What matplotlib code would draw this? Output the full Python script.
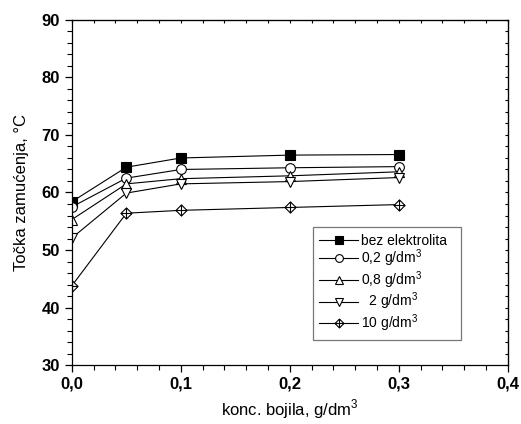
import matplotlib
matplotlib.use("Agg")
import matplotlib.pyplot as plt
from matplotlib.path import Path
from matplotlib.ticker import MultipleLocator, FuncFormatter, NullFormatter

plt.rcParams["font.family"] = ["Liberation Sans", "DejaVu Sans"]
plt.rcParams["mathtext.fontset"] = "custom"
plt.rcParams["mathtext.rm"] = "Liberation Sans"

conc = [0.0, 0.05, 0.1, 0.2, 0.3]
bez_elektrolita = [58.4, 64.4, 66.0, 66.5, 66.6]
el_02 = [57.5, 62.5, 64.0, 64.3, 64.5]
el_08 = [55.3, 61.5, 62.4, 62.9, 63.6]
el_2 = [52.1, 59.9, 61.5, 61.9, 62.6]
el_10 = [43.8, 56.4, 56.9, 57.4, 57.9]
labels = ["bez elektrolita", "0,2 g/dm$^3$", "0,8 g/dm$^3$", "  2 g/dm$^3$", "10 g/dm$^3$"]

# diamond with a cross inside
diamond_plus = Path(
    [(0, 1), (1, 0), (0, -1), (-1, 0), (0, 1), (0, 1), (0, -1), (-1, 0), (1, 0)],
    [Path.MOVETO, Path.LINETO, Path.LINETO, Path.LINETO, Path.CLOSEPOLY,
     Path.MOVETO, Path.LINETO, Path.MOVETO, Path.LINETO],
)

series = [bez_elektrolita, el_02, el_08, el_2, el_10]
styles = [
    dict(marker="s", mfc="black", ms=6.5),
    dict(marker="o", mfc="white", ms=7),
    dict(marker="^", mfc="white", ms=7.5),
    dict(marker="v", mfc="white", ms=7.5),
    dict(marker=diamond_plus, mfc="white", ms=8),
]

fig = plt.figure(figsize=(5.21, 4.24), dpi=100)
ax = fig.add_axes([0.138, 0.139, 0.8365, 0.814])

for vals, lab, st in zip(series, labels, styles):
    ax.plot(conc, vals, color="black", lw=0.8, mec="black", mew=0.8, label=lab, **st)

ax.set_xlim(0.0, 0.4)
ax.set_ylim(30, 90)
ax.xaxis.set_major_locator(MultipleLocator(0.1))
ax.xaxis.set_minor_locator(MultipleLocator(0.02))
ax.yaxis.set_major_locator(MultipleLocator(10))
ax.yaxis.set_minor_locator(MultipleLocator(2))
ax.xaxis.set_major_formatter(FuncFormatter(lambda v, p: f"{v:.1f}".replace(".", ",")))

ax.tick_params(which="major", direction="out", length=5, width=0.9, labelsize=12)
ax.tick_params(which="minor", direction="out", length=3.5, width=0.8)
for lbl in ax.get_xticklabels() + ax.get_yticklabels():
    lbl.set_fontweight("bold")
for sp in ax.spines.values():
    sp.set_linewidth(0.9)

# short inward ticks on the top and right frame
top = ax.secondary_xaxis("top")
top.xaxis.set_major_locator(MultipleLocator(0.02))
top.xaxis.set_major_formatter(NullFormatter())
top.tick_params(direction="in", length=2.5, width=0.8)
right = ax.secondary_yaxis("right")
right.yaxis.set_major_locator(MultipleLocator(2))
right.yaxis.set_major_formatter(NullFormatter())
right.tick_params(direction="in", length=2.5, width=0.8)

ax.set_xlabel("konc. bojila, g/dm$^3$", fontsize=12, labelpad=4)
ax.set_ylabel("Točka zamućenja, °C", fontsize=12, labelpad=9)

leg = ax.legend(loc="lower left", bbox_to_anchor=(0.553, 0.072, 0.34, 0.308), mode="expand",
                fontsize=10, frameon=True, fancybox=False, edgecolor="#555555",
                handlelength=2.8, handletextpad=0.2, borderaxespad=0, labelspacing=0.0,
                markerscale=0.8, borderpad=0.45)
leg.get_frame().set_linewidth(0.9)

fig.savefig("out.png", dpi=100)
